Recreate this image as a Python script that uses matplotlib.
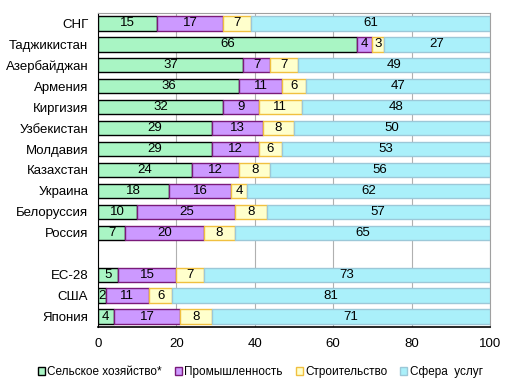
import matplotlib.pyplot as plt
import numpy as np

plt.rcParams['font.family'] = ['Liberation Sans', 'DejaVu Sans']

countries = ["СНГ", "Таджикистан", "Азербайджан", "Армения", "Киргизия",
             "Узбекистан", "Молдавия", "Казахстан", "Украина", "Белоруссия",
             "Россия", "", "ЕС-28", "США", "Япония"]
agri = [15, 66, 37, 36, 32, 29, 29, 24, 18, 10, 7, None, 5, 2, 4]
industry = [17, 4, 7, 11, 9, 13, 12, 12, 16, 25, 20, None, 15, 11, 17]
construction = [7, 3, 7, 6, 11, 8, 6, 8, 4, 8, 8, None, 7, 6, 8]
services = [61, 27, 49, 47, 48, 50, 53, 56, 62, 57, 65, None, 73, 81, 71]

series_names = ["Сельское хозяйство*", "Промышленность", "Строительство", "Сфера  услуг"]
faces = ["#a9f5c4", "#cc99ff", "#ffffcc", "#aaf0fa"]
edges = ["#000000", "#7a1a7a", "#f0c040", "#9cc8d8"]

fig = plt.figure(figsize=(5.15, 3.89), dpi=100)
ax = fig.add_axes([98 / 515, 1 - 327 / 389, 392 / 515, 314 / 389])

y = np.arange(len(countries))
left = np.zeros(len(countries))
handles = []
for vals, name, fc, ec in zip([agri, industry, construction, services], series_names, faces, edges):
    v = np.array([0 if x is None else x for x in vals], dtype=float)
    mask = np.array([x is not None for x in vals])
    bars = ax.barh(y[mask], v[mask], left=left[mask], height=0.68, color=fc,
                   edgecolor=ec, linewidth=1.0, label=name, zorder=3)
    handles.append(bars)
    for yi, vi, li in zip(y[mask], v[mask], left[mask]):
        ax.text(li + vi / 2, yi, str(int(vi)), ha="center", va="center",
                fontsize=9.5, color="black", zorder=4)
    left = left + v

ax.set_xlim(0, 100)
ax.set_ylim(len(countries) - 0.5, -0.5)
ax.set_xticks(range(0, 101, 20))
ax.set_yticks(y)
ax.set_yticklabels(countries, fontsize=9.5)
ax.tick_params(axis="x", labelsize=9.5, length=0, pad=8)
ax.tick_params(axis="y", length=0, pad=7)
ax.xaxis.grid(True, color="#b0b0b0", linewidth=0.8, zorder=0)
ax.spines["top"].set_color("#a0a0a0")
ax.spines["right"].set_color("#a0a0a0")
ax.spines["left"].set_color("black")
ax.spines["bottom"].set_color("black")
ax.spines["bottom"].set_linewidth(1.2)

fig.legend(handles=handles, labels=series_names, loc="lower center",
           bbox_to_anchor=(0.505, 0.0), ncol=4, frameon=False, fontsize=8.5,
           handlelength=0.6, handleheight=0.6, handletextpad=0.2, columnspacing=1.1)

fig.savefig("out.png", dpi=100)
